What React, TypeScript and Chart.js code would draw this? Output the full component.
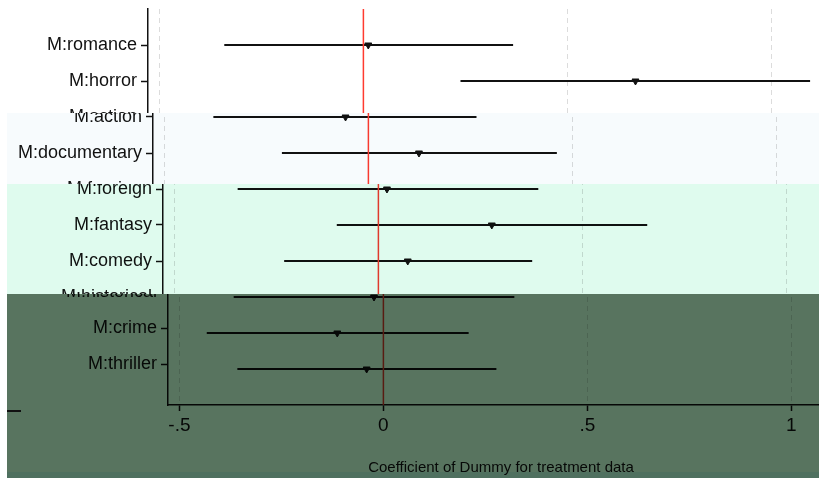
import React, { useEffect, useRef } from "react";
import { Chart, registerables } from "chart.js";

Chart.register(...registerables);

const categories = [
  "M:romance",
  "M:horror",
  "M:action",
  "M:documentary",
  "M:foreign",
  "M:fantasy",
  "M:comedy",
  "M:historical",
  "M:crime",
  "M:thriller",
];
const estimates = [0.012, 0.667, -0.056, 0.124, 0.021, 0.278, 0.072, -0.023, -0.113, -0.041];
const lowerCI = [-0.341, 0.238, -0.38, -0.212, -0.345, -0.102, -0.231, -0.367, -0.433, -0.358];
const upperCI = [0.367, 1.095, 0.265, 0.462, 0.392, 0.659, 0.377, 0.321, 0.209, 0.277];
const xTickValues = [-0.5, 0, 0.5, 1];
const xTickLabels = ["-.5", "0", ".5", "1"];
const xTitle = "Coefficient of Dummy for treatment data";

const W = 819;
const H = 478;

// horizontal glitch bands: y-range, right shift, tint
const bands = [
  { y0: 113, y1: 184, dx: 5, tint: "#f7fbfd", labelDy: 0 },
  { y0: 184, y1: 294, dx: 15, tint: "#dffbee", labelDy: 0 },
  { y0: 294, y1: 472, dx: 20, tint: "#58745f", labelDy: 5 },
  { y0: 472, y1: 478, dx: 20, tint: "#4f705f", labelDy: 5 },
];

const bgPlugin = {
  id: "bg",
  beforeDraw(chart: any) {
    const ctx = chart.ctx;
    ctx.save();
    ctx.fillStyle = "#ffffff";
    ctx.fillRect(0, 0, chart.width, chart.height);
    ctx.restore();
  },
};

const glitchPlugin = {
  id: "glitch",
  afterDraw(chart: any) {
    const ctx = chart.ctx as CanvasRenderingContext2D;
    const src = chart.canvas as HTMLCanvasElement;
    const copy = document.createElement("canvas");
    copy.width = src.width;
    copy.height = src.height;
    copy.getContext("2d")!.drawImage(src, 0, 0);
    const axisX = Math.round(chart.chartArea.left) - 1;
    ctx.save();
    ctx.setTransform(1, 0, 0, 1, 0, 0);
    bands.forEach((b) => {
      const h = b.y1 - b.y0;
      ctx.globalCompositeOperation = "source-over";
      ctx.fillStyle = "#ffffff";
      ctx.fillRect(0, b.y0, W, h);
      ctx.drawImage(copy, 0, b.y0, W, h, b.dx, b.y0, W, h);
      if (b.labelDy) {
        ctx.fillStyle = "#ffffff";
        ctx.fillRect(0, b.y0, axisX + b.dx, h);
        ctx.drawImage(copy, 0, b.y0 + b.labelDy, axisX, h, b.dx, b.y0, axisX, h);
      }
      ctx.globalCompositeOperation = "multiply";
      ctx.fillStyle = b.tint;
      ctx.fillRect(7, b.y0, W - 7, h);
    });
    ctx.globalCompositeOperation = "source-over";
    ctx.strokeStyle = "#111";
    ctx.lineWidth = 2;
    ctx.beginPath();
    ctx.moveTo(7, 411);
    ctx.lineTo(21, 411);
    ctx.stroke();
    ctx.restore();
  },
};

export default function App() {
  const ref = useRef<HTMLCanvasElement | null>(null);
  useEffect(() => {
    if (!ref.current) return;
    const ciSets = categories.map((_, i) => ({
      type: "scatter" as const,
      data: [
        { x: lowerCI[i], y: i },
        { x: upperCI[i], y: i },
      ],
      showLine: true,
      borderColor: "#111111",
      borderWidth: 1.8,
      pointRadius: 0,
      order: 2,
    }));
    const chart = new Chart(ref.current, {
      type: "scatter",
      data: {
        datasets: [
          ...ciSets,
          {
            data: [
              { x: 0, y: -1 },
              { x: 0, y: 10 },
            ],
            showLine: true,
            borderColor: "#ff3b30",
            borderWidth: 1.5,
            pointRadius: 0,
            order: 1,
          } as any,
          {
            data: estimates.map((v, i) => ({ x: v, y: i })),
            pointStyle: "triangle",
            rotation: 180,
            radius: 4,
            backgroundColor: "#111111",
            borderColor: "#111111",
            borderWidth: 1,
            order: 0,
          } as any,
        ],
      },
      options: {
        responsive: false,
        animation: false,
        devicePixelRatio: 1,
        layout: { padding: { top: 9, left: 0, right: 0, bottom: 0 } },
        plugins: { legend: { display: false }, tooltip: { enabled: false } },
        scales: {
          x: {
            type: "linear",
            min: -0.528,
            max: 1.1046,
            afterBuildTicks: (s: any) => {
              s.ticks = xTickValues.map((v) => ({ value: v }));
            },
            afterFit: (s: any) => {
              s.height = 73;
              s.paddingLeft = 0;
              s.paddingRight = 0;
            },
            grid: {
              color: "#dcdcdc",
              lineWidth: 1,
              drawTicks: true,
              tickLength: 6,
              tickColor: "#111111",
              tickWidth: 1.5,
              tickBorderDash: [],
            } as any,
            border: { display: true, color: "#111111", width: 1.5, dash: [5, 4] } as any,
            ticks: {
              color: "#111111",
              padding: 3,
              maxRotation: 0,
              autoSkip: false,
              font: { family: "'Liberation Sans', Arial, sans-serif", size: 19 },
              callback: (v: any) => {
                const idx = xTickValues.indexOf(Number(v));
                return idx >= 0 ? xTickLabels[idx] : "";
              },
            },
            title: {
              display: true,
              text: xTitle,
              color: "#111111",
              font: { family: "'Liberation Sans', Arial, sans-serif", size: 15 },
              padding: { top: 0, bottom: 1 },
            },
          },
          y: {
            type: "linear",
            reverse: true,
            min: -1,
            max: 10,
            afterBuildTicks: (s: any) => {
              s.ticks = categories.map((_, i) => ({ value: i }));
            },
            afterFit: (s: any) => {
              s.width = 148;
              s.paddingTop = 0;
              s.paddingBottom = 0;
            },
            grid: {
              drawOnChartArea: false,
              drawTicks: true,
              tickLength: 7,
              tickColor: "#111111",
              tickWidth: 1.5,
            } as any,
            border: { display: true, color: "#111111", width: 1.5 } as any,
            ticks: {
              color: "#111111",
              padding: 4,
              autoSkip: false,
              font: { family: "'Liberation Sans', Arial, sans-serif", size: 18 },
              callback: (v: any) => categories[Number(v)] ?? "",
            },
          },
        },
      } as any,
      plugins: [bgPlugin, glitchPlugin],
    });
    return () => chart.destroy();
  }, []);
  return (
    <div style={{ position: "fixed", left: 0, top: 0, width: W, height: H, background: "#fff" }}>
      <canvas ref={ref} width={W} height={H} style={{ display: "block", width: W, height: H }} />
    </div>
  );
}
